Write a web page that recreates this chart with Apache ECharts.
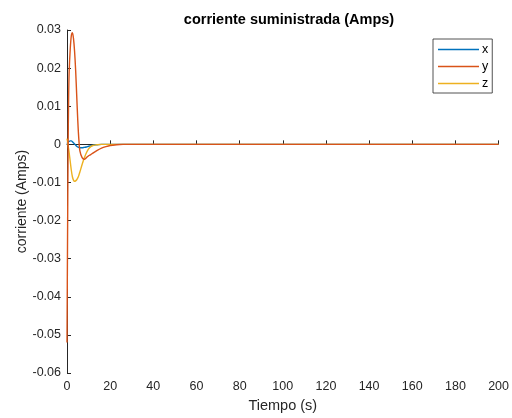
<!DOCTYPE html>
<html>
<head>
<meta charset="utf-8">
<script src="https://cdn.jsdelivr.net/npm/echarts@6/dist/echarts.min.js"></script>
<style>html,body{margin:0;padding:0;background:#fff;}#c{width:512px;height:418px;}</style>
</head>
<body>
<div id="c"></div>
<script>
const seriesNames = ['x', 'y', 'z'];
const time = [0, 0.25, 0.5, 0.75, 1, 1.5, 2, 2.5, 3, 3.5, 4, 4.5, 5, 5.5, 6, 7, 8, 9, 10, 11, 12, 14, 16, 18, 20, 23, 26, 30, 200];
const xValues = [0.0002, 0.0004, 0.0006, 0.0007, 0.0008, 0.0009, 0.0009, 0.0007, 0.0004, 0.0001, -0.0002, -0.0005, -0.0007, -0.0008, -0.0009, -0.0009, -0.0008, -0.0007, -0.0005, -0.0004, -0.0002, -0.0001, 0, 0, 0, 0, 0, 0, 0];
const yValues = [-0.052, -0.025, -0.002, 0.012, 0.019, 0.025, 0.0285, 0.0293, 0.0278, 0.0245, 0.0195, 0.0128, 0.0062, 0.0012, -0.0018, -0.0035, -0.0039, -0.0035, -0.0030, -0.0027, -0.0023, -0.0016, -0.0010, -0.0006, -0.0003, -0.0001, 0, 0, 0];
const zValues = [0.0015, 0.0008, -0.0002, -0.0012, -0.0022, -0.0045, -0.0068, -0.0085, -0.0094, -0.0097, -0.0096, -0.0093, -0.0088, -0.0081, -0.0072, -0.0053, -0.0036, -0.0022, -0.0012, -0.0006, -0.0003, -0.0001, 0, 0, 0, 0, 0, 0, 0];
const colors = ['#0072BD', '#D95319', '#EDB120'];
const titleText = 'corriente suministrada (Amps)';
const xName = 'Tiempo (s)';
const yName = 'corriente (Amps)';

const allValues = [xValues, yValues, zValues];
const font = 'Liberation Sans, Arial, Helvetica, sans-serif';
const chart = echarts.init(document.getElementById('c'), null, {renderer: 'canvas'});
chart.setOption({
  animation: false,
  backgroundColor: '#fff',
  title: {
    text: titleText, left: 284, top: 7, textAlign: 'center',
    textStyle: {fontFamily: font, fontSize: 14.5, fontWeight: 'bold', color: '#000'}
  },
  legend: {
    data: seriesNames, orient: 'vertical', left: 433, top: 39,
    padding: [4, 4, 3, 5], itemGap: 4, itemWidth: 41, itemHeight: 1.5,
    icon: 'rect', itemStyle: {borderWidth: 0},
    borderColor: '#262626', borderWidth: 0.8, backgroundColor: '#fff',
    textStyle: {fontFamily: font, fontSize: 12.5, color: '#000', lineHeight: 12, padding: [0, 0, 0, -2]}
  },
  grid: {left: 67, right: 11, top: 30, bottom: 45, containLabel: false},
  xAxis: {
    type: 'value', min: 0, max: 200, interval: 20,
    name: xName, nameLocation: 'middle', nameGap: 25, nameMoveOverlap: false,
    nameTextStyle: {fontFamily: font, fontSize: 14.5, color: '#262626'},
    axisLine: {show: true, lineStyle: {color: '#262626', width: 1}},
    axisTick: {show: true, inside: true, length: 4, lineStyle: {color: '#262626'}},
    axisLabel: {fontFamily: font, fontSize: 12.5, color: '#262626', margin: 7},
    splitLine: {show: false}
  },
  yAxis: {
    type: 'value', min: -0.06, max: 0.03, interval: 0.01,
    name: yName, nameLocation: 'middle', nameGap: 38, nameRotate: 90, nameMoveOverlap: false,
    nameTextStyle: {fontFamily: font, fontSize: 14, color: '#262626'},
    axisLine: {show: true, lineStyle: {color: '#262626', width: 1}},
    axisTick: {show: true, inside: true, length: 4, lineStyle: {color: '#262626'}},
    axisLabel: {fontFamily: font, fontSize: 12.5, color: '#262626', margin: 6,
      formatter: v => String(+v.toFixed(2))},
    splitLine: {show: false}
  },
  series: seriesNames.map((n, i) => ({
    name: n, type: 'line', showSymbol: false, smooth: 0.3,
    data: time.map((t, k) => [t, allValues[i][k]]),
    lineStyle: {color: colors[i], width: 1.4},
    itemStyle: {color: colors[i]},
    z: 2 + (i === 1 ? 1 : 0)
  }))
});
</script>
</body>
</html>
